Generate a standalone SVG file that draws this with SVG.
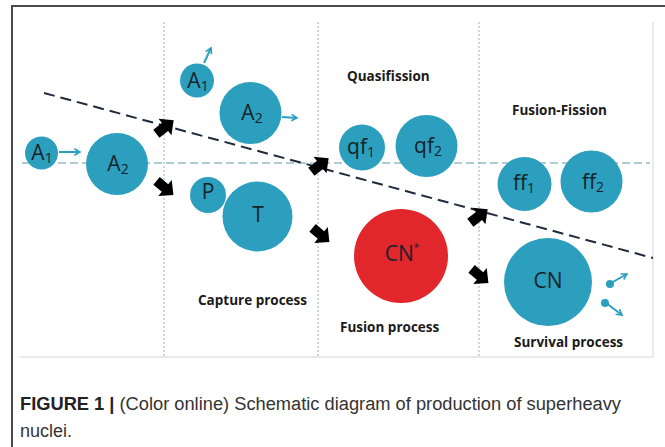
<svg xmlns="http://www.w3.org/2000/svg" width="665" height="447" viewBox="0 0 665 447">
<defs>
<style>
.nuc{fill:#2b9fbd}
.red{fill:#e2272c}
.lbl{font-family:"Open Sans","Noto Sans",sans-serif;font-size:21px;fill:#16232a;text-anchor:middle;font-weight:400}
.sub{font-size:14px}
.star{font-size:10px}
.ttl{font-family:"Open Sans","Noto Sans",sans-serif;font-size:13.5px;font-weight:700;fill:#1a1a1a}
.tarrow{stroke:#2b9fbd;stroke-width:2;fill:none}
.vdot{stroke:#9cc3c9;stroke-width:1.2;stroke-dasharray:2 2;fill:none}
.big{fill:#000}
</style>
<marker id="th" viewBox="0 0 10 10" refX="8" refY="5" markerWidth="4" markerHeight="4" orient="auto" markerUnits="strokeWidth">
<path d="M1,1 L8,5 L1,9" fill="none" stroke="#2b9fbd" stroke-width="2"/>
</marker>
<path id="fat" d="M-11,-5 L0,-5 L0,-10.5 L11,0 L0,10.5 L0,5 L-11,5 Z"/>
</defs>
<rect x="0" y="0" width="665" height="447" fill="#fff"/>
<path d="M12,447 L12,6 L665,6" fill="none" stroke="#4a4a4a" stroke-width="2"/>
<path d="M20,357 L653,357 M653,22 L653,357" fill="none" stroke="#e8eaeb" stroke-width="2"/>

<g id="connectors">
<line class="vdot" x1="164" y1="22" x2="164" y2="357"/>
<line class="vdot" x1="318" y1="22" x2="318" y2="357"/>
<line class="vdot" x1="479" y1="22" x2="479" y2="357"/>
<line x1="22" y1="163" x2="650" y2="163" stroke="#95bcc4" stroke-width="1.3" stroke-dasharray="8 4"/>
<line x1="44" y1="93" x2="653" y2="258" stroke="#1f2b3a" stroke-width="2" stroke-dasharray="11 6"/>
<line class="tarrow" x1="59" y1="152" x2="80" y2="152" marker-end="url(#th)"/>
<line class="tarrow" x1="204" y1="63" x2="211" y2="48" marker-end="url(#th)"/>
<line class="tarrow" x1="282" y1="117" x2="297" y2="118" marker-end="url(#th)"/>
<line class="tarrow" x1="611" y1="283" x2="627" y2="274" marker-end="url(#th)"/>
<line class="tarrow" x1="606" y1="303" x2="622" y2="315" marker-end="url(#th)"/>
<use href="#fat" class="big" transform="translate(165,127) rotate(-38)"/>
<use href="#fat" class="big" transform="translate(165,188) rotate(40)"/>
<use href="#fat" class="big" transform="translate(320,165) rotate(-38)"/>
<use href="#fat" class="big" transform="translate(321,235) rotate(40)"/>
<use href="#fat" class="big" transform="translate(479,216) rotate(-38)"/>
<use href="#fat" class="big" transform="translate(480,276) rotate(40)"/>
</g>

<g id="A1-left"><circle class="nuc" cx="41.5" cy="153" r="16.5"/><text class="lbl" x="42" y="160">A<tspan class="sub" dy="3">1</tspan></text></g>
<g id="A2-left"><circle class="nuc" cx="117" cy="164" r="31"/><text class="lbl" x="118" y="171">A<tspan class="sub" dy="3">2</tspan></text></g>
<g id="A1-upper"><circle class="nuc" cx="197" cy="80.5" r="17"/><text class="lbl" x="198" y="88">A<tspan class="sub" dy="3">1</tspan></text></g>
<g id="A2-upper"><circle class="nuc" cx="250.5" cy="113" r="31"/><text class="lbl" x="252" y="120">A<tspan class="sub" dy="3">2</tspan></text></g>
<g id="P"><circle class="nuc" cx="208" cy="195" r="18"/><text class="lbl" x="208" y="199">P</text></g>
<g id="T"><circle class="nuc" cx="257.5" cy="216.5" r="35"/><text class="lbl" x="258" y="222">T</text></g>
<g id="qf1"><circle class="nuc" cx="362" cy="147.5" r="23"/><text class="lbl" x="361" y="154">qf<tspan class="sub" dy="3">1</tspan></text></g>
<g id="qf2"><circle class="nuc" cx="426.5" cy="146" r="31"/><text class="lbl" x="428" y="153">qf<tspan class="sub" dy="3">2</tspan></text></g>
<g id="ff1"><circle class="nuc" cx="524.5" cy="184" r="27"/><text class="lbl" x="524" y="190">ff<tspan class="sub" dy="3">1</tspan></text></g>
<g id="ff2"><circle class="nuc" cx="591.5" cy="181.5" r="31"/><text class="lbl" x="593" y="189">ff<tspan class="sub" dy="3">2</tspan></text></g>
<g id="CNstar"><circle class="red" cx="401" cy="256" r="47"/><text class="lbl" x="402" y="261">CN<tspan class="star" dy="-10">*</tspan></text></g>
<g id="CN"><circle class="nuc" cx="548" cy="282" r="44"/><text class="lbl" x="548" y="288">CN</text></g>
<g id="particles"><circle class="nuc" cx="610" cy="284" r="4"/><circle class="nuc" cx="605" cy="303" r="4"/></g>

<g id="titles">
<text class="ttl" x="347" y="81">Quasifission</text>
<text class="ttl" x="512" y="115">Fusion-Fission</text>
<text class="ttl" x="198" y="305">Capture process</text>
<text class="ttl" x="340" y="332">Fusion process</text>
<text class="ttl" x="514" y="347">Survival process</text>
</g>

<g id="caption" font-family="'Liberation Sans',Arial,sans-serif" font-size="18" fill="#333">
<text x="20" y="410" textLength="601" lengthAdjust="spacingAndGlyphs"><tspan font-weight="700" fill="#222">FIGURE 1 |</tspan> (Color online) Schematic diagram of production of superheavy</text>
<text x="20" y="437">nuclei.</text>
</g>
</svg>
